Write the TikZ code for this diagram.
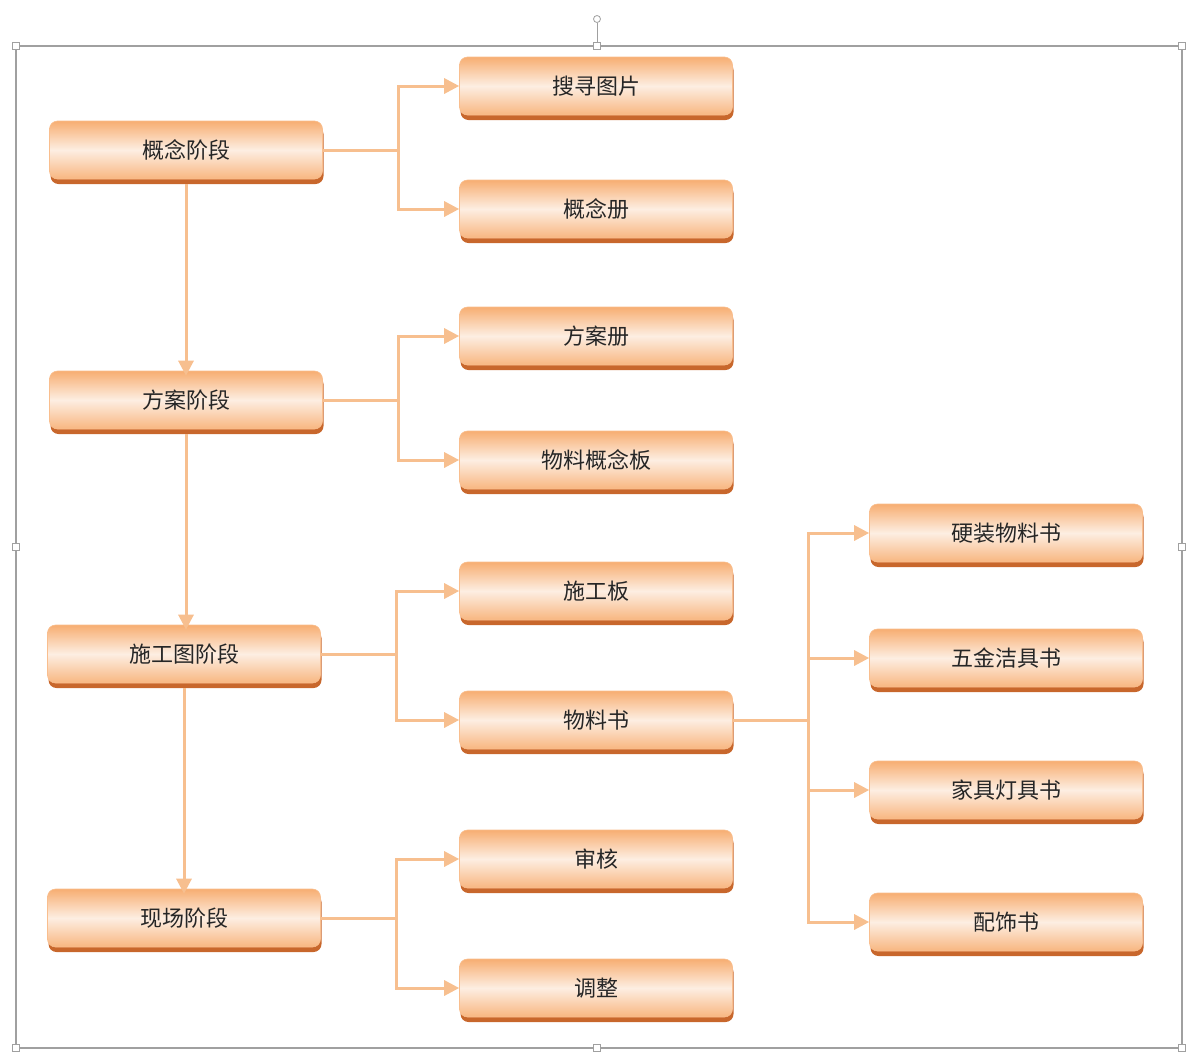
\documentclass[tikz,border=0pt]{standalone}
\usepackage{fontspec}
\newfontfamily\cjk{Noto Sans CJK SC}
\usetikzlibrary{arrows.meta,shadows}
\definecolor{edgeor}{HTML}{F7BF8F}
\definecolor{boxor}{HTML}{F7AE72}
\definecolor{boxhi}{HTML}{FDEEE2}
\definecolor{shador}{HTML}{C8672C}
\definecolor{framegray}{HTML}{A0A0A0}
\tikzset{b/.style={rounded corners=8pt,minimum width=273pt,minimum height=58pt,
  top color=boxor,bottom color=boxor!90,middle color=boxhi,draw=boxor!80,line width=.6pt,
  text=black!85,font=\cjk\fontsize{22}{26}\selectfont,
  drop shadow={shadow xshift=1pt,shadow yshift=-5pt,fill=shador,opacity=1}},
 flow/.style={-{Triangle[length=15pt,width=15pt]},line width=3pt,draw=edgeor},
 wire/.style={line width=3pt,draw=edgeor},
 hd/.style={draw=framegray,fill=white,minimum size=7pt,inner sep=0pt,line width=.8pt}}
\begin{document}
\begin{tikzpicture}[x=1pt,y=-1pt]
\useasboundingbox (0,0) rectangle (1192,1053);
% frame and handles
\draw[framegray,line width=1.2pt] (16,46) rectangle (1182,1048);
\foreach \p [count=\i] in {(16,46),(597,46),(1182,46),(16,547),(1182,547),(16,1048),(597,1048),(1182,1048)}{
 \node[hd] (h\i) at \p {};}
\node[hd,circle] (rot) at (597,19){};\draw[framegray,line width=.8pt](rot)--(h2);
% stages
\node[b] (k1) at (186,150){概念阶段};\node[b] (k2) at (186,400){方案阶段};
\node[b] (k3) at (184,654){施工图阶段};\node[b] (k4) at (184,918){现场阶段};
% documents
\foreach \n/\y/\t in {s1/86/搜寻图片,s2/209/概念册,s3/336/方案册,s4/460/物料概念板,
 s5/591/施工板,s6/720/物料书,s7/859/审核,s8/988/调整}{
 \node[b] (\n) at (596,\y){\t};}
\foreach \n/\y/\t in {r1/533/硬装物料书,r2/658/五金洁具书,r3/790/家具灯具书,r4/922/配饰书}{
 \node[b] (\n) at (1006,\y){\t};}
% connectors
\foreach \i/\j in {1/2,2/3,3/4}{\draw[flow]([yshift=-5pt]k\i.south)--([yshift=-5pt]k\i.south|-k\j.north);}
\foreach \k/\a/\c in {k1/s1/s2,k2/s3/s4,k3/s5/s6,k4/s7/s8}{
 \draw[wire](\k.east)--++(76,0) coordinate(j\k);
 \draw[flow](j\k)|-(\a.west);\draw[flow](j\k)|-(\c.west);}
\draw[wire](s6.east)--++(76,0) coordinate(jr);
\foreach \r in {r1,r2,r3,r4}{\draw[flow](jr)|-(\r.west);}
\end{tikzpicture}
\end{document}
